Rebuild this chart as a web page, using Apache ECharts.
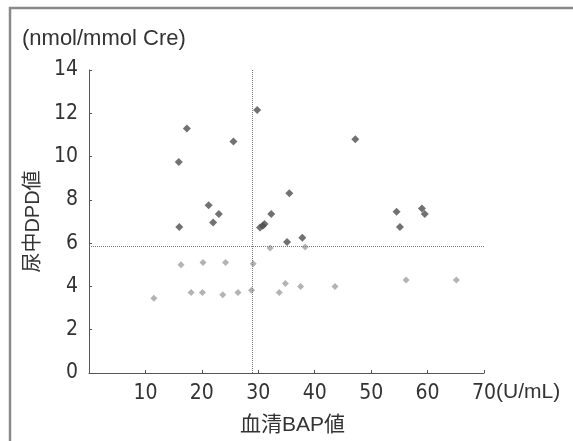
<!DOCTYPE html>
<html>
<head>
<meta charset="utf-8">
<script src="https://cdn.jsdelivr.net/npm/echarts@6/dist/echarts.min.js"></script>
<style>html,body{margin:0;padding:0;background:#fff}#c{width:573px;height:441px}</style>
</head>
<body>
<div id="c"></div>
<script>
var xTicks = [0, 10, 20, 30, 40, 50, 60, 70];
var yTicks = [0, 2, 4, 6, 8, 10, 12, 14];
var highBAP = [15.9, 17.35, 25.6, 21.2, 23.0, 22.0, 16.0, 29.8, 35.5, 32.3, 30.3, 30.8, 31.1, 35.1, 37.8, 47.2, 54.5, 59.0, 59.5, 55.1];
var highDPD = [9.75, 11.3, 10.7, 7.75, 7.35, 6.95, 6.75, 12.15, 8.3, 7.35, 6.72, 6.8, 6.88, 6.05, 6.25, 10.8, 7.45, 7.6, 7.35, 6.75];
var lowBAP = [16.3, 20.2, 24.2, 29.1, 11.5, 18.1, 20.1, 23.7, 26.4, 28.8, 32.1, 38.3, 34.8, 33.7, 37.5, 43.6, 56.2, 65.1];
var lowDPD = [5.0, 5.1, 5.1, 5.05, 3.45, 3.72, 3.72, 3.62, 3.72, 3.82, 5.78, 5.82, 4.13, 3.72, 4.0, 4.0, 4.3, 4.3];
var cutBAP = 29;
var cutDPD = 5.85;

function pairs(xs, ys) { return xs.map(function (x, i) { return [x, ys[i]]; }); }
var FONT = 'Liberation Sans, Arial, Noto Sans CJK JP, sans-serif';
var NARROW = 'Liberation Sans Narrow, Arial Narrow, DejaVu Sans Condensed, sans-serif';

var chart = echarts.init(document.getElementById('c'), null, {renderer: 'canvas'});
chart.setOption({
  animation: false,
  backgroundColor: '#fff',
  title: {
    text: '(nmol/mmol Cre)', left: 17, top: 23,
    textStyle: {fontFamily: FONT, fontSize: 22, fontWeight: 'normal', color: '#333'}
  },
  grid: {left: 89, right: 89, top: 70, bottom: 68},
  xAxis: {
    type: 'value', min: xTicks[0], max: xTicks[xTicks.length - 1], interval: 10,
    name: '血清BAP値', nameLocation: 'middle', nameGap: 42,
    nameTextStyle: {fontFamily: FONT, fontSize: 21, color: '#333', padding: [0, 0, 0, 12]},
    axisLine: {lineStyle: {color: '#555', width: 1}},
    axisTick: {inside: true, length: 3, lineStyle: {color: '#555'}},
    splitLine: {show: false},
    axisLabel: {
      fontFamily: NARROW, fontSize: 21, color: '#333', margin: 10,
      formatter: function (v) { return v === 0 ? '' : String(v); }
    }
  },
  yAxis: {
    type: 'value', min: yTicks[0], max: yTicks[yTicks.length - 1], interval: 2,
    name: '尿中DPD値', nameLocation: 'middle', nameGap: 45, nameRotate: 90,
    nameTextStyle: {fontFamily: FONT, fontSize: 20, color: '#333'},
    axisLine: {show: true, lineStyle: {color: '#555', width: 1}},
    axisTick: {show: true, inside: true, length: 3, lineStyle: {color: '#555'}},
    splitLine: {show: false},
    axisLabel: {fontFamily: NARROW, fontSize: 21, color: '#333', margin: 11}
  },
  series: [{
    type: 'scatter', symbol: 'diamond', symbolSize: 8,
    itemStyle: {color: '#4d4d4d'},
    data: pairs(highBAP, highDPD),
    markLine: {
      silent: true, symbol: 'none', label: {show: false},
      lineStyle: {color: '#777', type: 'dotted', width: 1},
      data: [{xAxis: cutBAP}, {yAxis: cutDPD}]
    }
  }, {
    type: 'scatter', symbol: 'diamond', symbolSize: 7,
    itemStyle: {color: '#a0a0a0'},
    data: pairs(lowBAP, lowDPD)
  }],
  graphic: [{
    type: 'rect', shape: {x: 10, y: 8, width: 570, height: 450},
    style: {fill: 'none', stroke: '#8a8a8a', lineWidth: 2.5}, silent: true
  }, {
    type: 'text', left: 496, top: 382,
    style: {text: '(U/mL)', font: '21px ' + FONT, fill: '#333'}
  }]
});
</script>
</body>
</html>
